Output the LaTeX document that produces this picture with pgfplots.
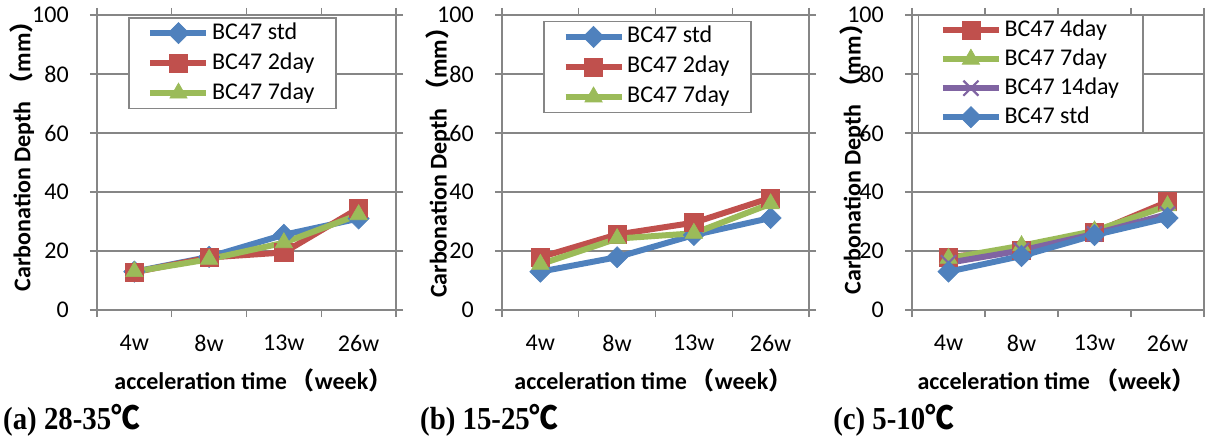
\documentclass[border=0pt]{standalone}
\usepackage{fontspec}
\setmainfont{Carlito}
\newfontfamily\cjk{Noto Sans CJK SC}
\newfontfamily\tnr{Liberation Serif}
\usepackage{pgfplots}
\pgfplotsset{compat=1.18}

\definecolor{xblue}{HTML}{4F81BD}
\definecolor{xred}{HTML}{C0504D}
\definecolor{xgreen}{HTML}{9BBB59}
\definecolor{xpurple}{HTML}{8064A2}
\definecolor{xgray}{HTML}{868686}

\newcommand{\fs}{\fontsize{18}{20}\selectfont}
\newcommand{\ft}{\fontsize{18}{20}\selectfont}
\newcommand{\fl}{\fontsize{18}{20}\selectfont}

\pgfplotsset{
  panel/.style={
    scale only axis, height=221.25pt,
    xmin=0.5, xmax=4.5, ymin=0, ymax=100,
    ytick={0,20,...,100},
    xtick={0.5,1.5,2.5,3.5,4.5}, xticklabels={,,,,,},
    extra x ticks={1,2,3,4}, extra x tick labels={4w,8w,13w,26w},
    extra x tick style={tick style={draw=none}, xmajorgrids=false},
    ymajorgrids, xmajorgrids=false,
    grid style={xgray, line width=1.1pt},
    axis line style={xgray, line width=1.1pt},
    tick style={xgray, line width=1.1pt},
    tick align=outside, major tick length=5.25pt,
    font=\fs,
    tick label style={font=\ft},
    /pgf/number format/assume math mode=true,
    yticklabel style={anchor=east, inner sep=0pt, xshift=-15.75pt},
    xticklabel style={anchor=center, yshift=-19.5pt},
    ylabel={\bfseries Carbonation Depth\hspace{4pt}{\cjk\bfseries（}mm{\cjk\bfseries）}},
    xlabel={\bfseries acceleration time\hspace{3pt}{\cjk\bfseries（}week{\cjk\bfseries）}},
    legend style={draw=xgray, line width=1.1pt, fill=white, font=\fl,
      inner xsep=14pt, inner ysep=1pt, row sep=1.5pt,
      nodes={inner sep=2pt, text height=13pt, text depth=4pt}},
    legend cell align=left,
    legend image code/.code={
      \draw[mark repeat=2, mark phase=2] plot coordinates {(0pt,0pt) (21pt,0pt) (42pt,0pt)};},
    every axis plot/.append style={line width=4.5pt},
  },
  sstd/.style={xblue, mark=square*, mark options={rotate=45, mark size=5.6pt, solid, fill=xblue, line width=0.5pt}},
  sred/.style={xred, mark=square*, mark options={mark size=6.8pt, solid, fill=xred, line width=0.5pt}},
  sgreen/.style={xgreen, mark=triangle*, mark options={mark size=7.5pt, solid, fill=xgreen, line width=0.5pt}},
  spurple/.style={xpurple, mark=x, mark options={mark size=8pt, solid, line width=1.6pt}},
}

\begin{document}
\begin{tikzpicture}
\path[use as bounding box] (0,0) rectangle (903.75pt,-328.5pt);

% (a) 28-35
\begin{axis}[panel, width=224.25pt, at={(72.75pt,-232.5pt)}, anchor=south west,
  ylabel style={at={(axis description cs:-0.251,0.542)}, anchor=center},
  xlabel style={at={(axis description cs:0.523,-0.24)}, anchor=center},
  legend style={at={(axis description cs:0.104,0.993)}, anchor=north west}]
\addplot[sstd] coordinates {(1,13) (2,18) (3,25.5) (4,31)};
\addplot[sred] coordinates {(1,12.8) (2,17.8) (3,19.5) (4,34.5)};
\addplot[sgreen] coordinates {(1,13) (2,17.2) (3,22.8) (4,32.3)};
\legend{BC47 std, BC47 2day, BC47 7day}
\end{axis}

% (b) 15-25
\begin{axis}[panel, width=230.25pt, at={(376.5pt,-232.5pt)}, anchor=south west,
  ylabel style={at={(axis description cs:-0.208,0.519)}, anchor=center},
  xlabel style={at={(axis description cs:0.493,-0.24)}, anchor=center},
  legend style={at={(axis description cs:0.134,0.98)}, anchor=north west}]
\addplot[sstd] coordinates {(1,13) (2,17.9) (3,25.4) (4,31.2)};
\addplot[sred] coordinates {(1,17.9) (2,25.6) (3,29.6) (4,38)};
\addplot[sgreen] coordinates {(1,15.5) (2,24.2) (3,26) (4,36)};
\legend{BC47 std, BC47 2day, BC47 7day}
\end{axis}

% (c) 5-10
\begin{axis}[panel, width=219pt, at={(684pt,-232.5pt)}, anchor=south west,
  ylabel style={at={(axis description cs:-0.205,0.532)}, anchor=center},
  xlabel style={at={(axis description cs:0.495,-0.24)}, anchor=center},
  legend style={at={(axis description cs:0.02,1.003)}, anchor=north west, row sep=0.75pt, inner xsep=16pt}]
\addplot[sred] coordinates {(1,18) (2,20.3) (3,26.3) (4,36.7)};
\addplot[sgreen] coordinates {(1,17.5) (2,21.8) (3,26.8) (4,35.3)};
\addplot[spurple] coordinates {(1,16) (2,20.2) (3,25.8) (4,32.5)};
\addplot[sstd] coordinates {(1,13) (2,18.3) (3,25.4) (4,31.2)};
\legend{BC47 4day, BC47 7day, BC47 14day, BC47 std}
\end{axis}

\tikzset{capnode/.style={anchor=west, inner sep=0pt, font=\fontsize{24}{26}\selectfont\tnr\bfseries, xscale=0.9}}
\node[capnode] at (2.25pt,-315pt) {(a) 28-35{\cjk\bfseries ℃}};
\node[capnode] at (315pt,-315pt) {(b) 15-25{\cjk\bfseries ℃}};
\node[capnode] at (624.75pt,-315pt) {(c) 5-10{\cjk\bfseries ℃}};
\end{tikzpicture}
\end{document}
